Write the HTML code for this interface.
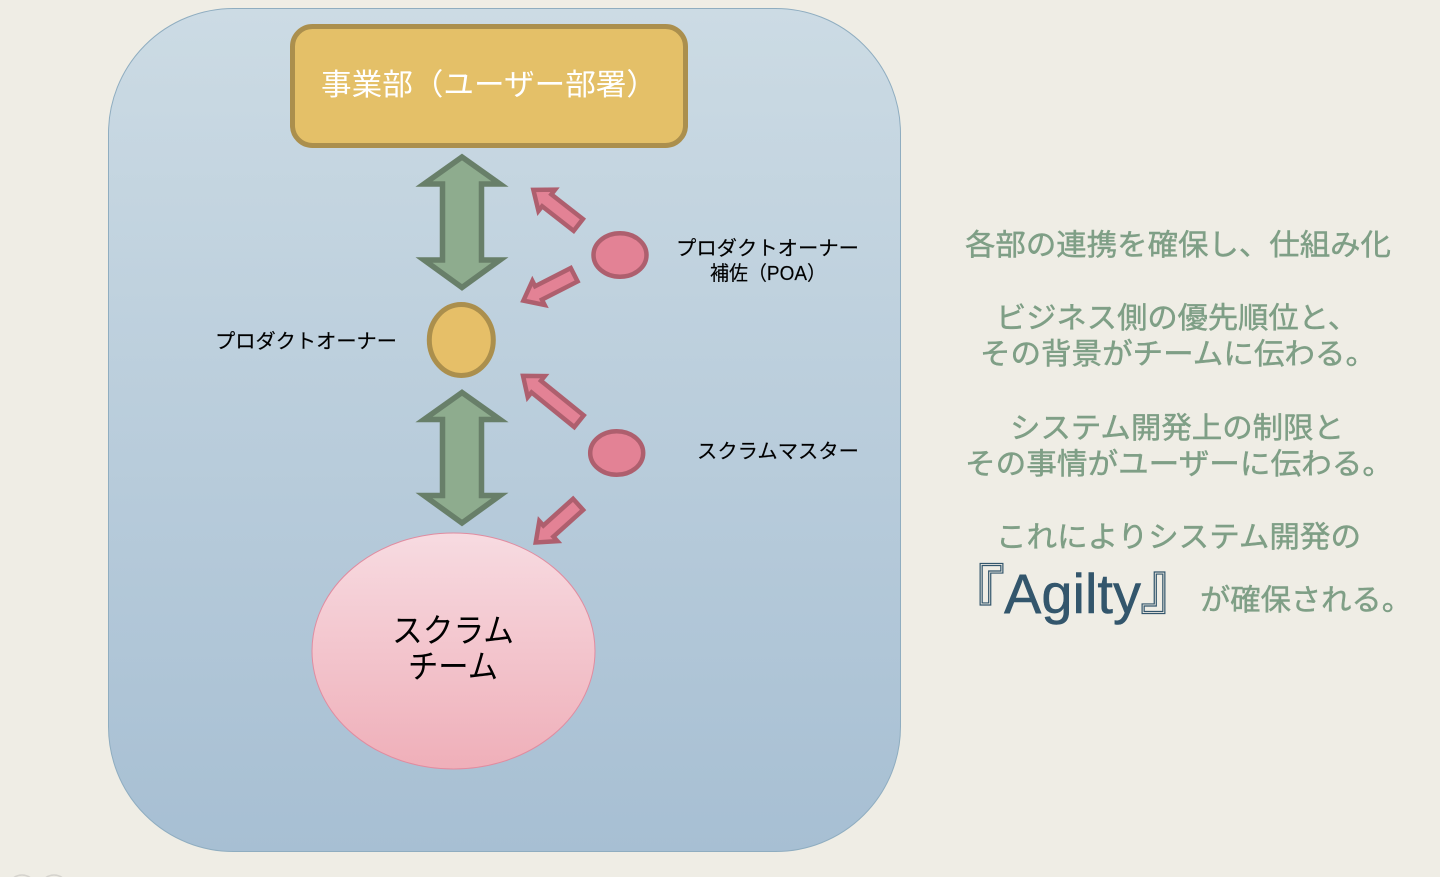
<!DOCTYPE html>
<html lang="ja">
<head>
<meta charset="utf-8">
<title>Scrum diagram</title>
<style>
html,body{margin:0;padding:0;width:1440px;height:877px;overflow:hidden;background:#efede5}
svg{display:block}
text{font-family:"Liberation Sans","Noto Sans CJK JP",sans-serif}
.g{font-size:29.5px;fill:#7f9f86;stroke:#7f9f86;stroke-width:.45}
.k{font-size:20px;fill:#000;stroke:#000;stroke-width:.15}
.ar{fill:#e38295;stroke:#ae5f6e;stroke-width:4.5;stroke-miterlimit:8}
</style>
</head>
<body>
<svg width="1440" height="877" viewBox="0 0 1440 877" xmlns="http://www.w3.org/2000/svg">
<defs>
<linearGradient id="bg" x1="0" y1="0" x2="0" y2="1"><stop offset="0" stop-color="#ccdbe4"/><stop offset="1" stop-color="#a7bfd3"/></linearGradient>
<linearGradient id="pk" x1="0" y1="0" x2="0" y2="1"><stop offset="0" stop-color="#f7dbe1"/><stop offset="1" stop-color="#efafb9"/></linearGradient>
<polygon id="dbl" points="462,157 424,184 442.500,184 442.500,260 424,260 462,287.500 500,260 481.500,260 481.500,184 500,184"/>
</defs>
<rect width="1440" height="877" fill="#efede5"/>
<circle cx="22" cy="889" r="14" fill="none" stroke="#d5d3cd" stroke-width="1.500"/>
<circle cx="54" cy="889" r="14" fill="none" stroke="#d5d3cd" stroke-width="1.500"/>

<rect x="108.500" y="8.500" width="792" height="843" rx="125" ry="125" fill="url(#bg)" stroke="#8fadc0" stroke-width="1"/>

<rect x="292.500" y="26.500" width="393" height="119" rx="20" ry="20" fill="#e4c068" stroke="#ab8f4d" stroke-width="5"/>
<text x="321" y="95" font-size="30" fill="#fff" textLength="336" lengthAdjust="spacingAndGlyphs">事業部（ユーザー部署）</text>

<use href="#dbl" style="fill:#8eac8e;stroke:#687f69;stroke-width:5.500"/>
<use href="#dbl" y="235.500" style="fill:#8eac8e;stroke:#687f69;stroke-width:5.500"/>

<ellipse cx="461.300" cy="340" rx="32" ry="35.500" fill="#e6bf68" stroke="#ab8f4d" stroke-width="5"/>
<ellipse cx="620" cy="255" rx="26.500" ry="21.800" fill="#e38295" stroke="#ae5f6e" stroke-width="4.500"/>
<ellipse cx="616.700" cy="453" rx="26.500" ry="21.800" fill="#e38295" stroke="#ae5f6e" stroke-width="4.500"/>
<ellipse cx="453.500" cy="651" rx="141.500" ry="118" fill="url(#pk)" stroke="#e08ca0" stroke-width="1"/>

<g class="ar">
<polygon transform="translate(531,188) rotate(38)" points="3,0 20,-13.500 20,-7.500 60,-7.500 60,7.500 20,7.500 20,13.500"/>
<polygon transform="translate(520.700,302) rotate(-27)" points="3,0 20,-13.500 20,-7.500 60,-7.500 60,7.500 20,7.500 20,13.500"/>
<polygon transform="translate(520.700,374) rotate(39)" points="3,0 20,-13.500 20,-7.500 75,-7.500 75,7.500 20,7.500 20,13.500"/>
<polygon transform="translate(533.500,544.500) rotate(-42)" points="3,0 20,-13.500 20,-7.500 60,-7.500 60,7.500 20,7.500 20,13.500"/>
</g>

<text class="k" x="215" y="348" textLength="182" lengthAdjust="spacingAndGlyphs">プロダクトオーナー</text>
<text class="k" x="676" y="255" textLength="183" lengthAdjust="spacingAndGlyphs">プロダクトオーナー</text>
<text class="k" x="710" y="280" textLength="116" lengthAdjust="spacingAndGlyphs">補佐（POA）</text>
<text class="k" x="697" y="458" textLength="162" lengthAdjust="spacingAndGlyphs">スクラムマスター</text>

<text x="453" y="642" font-size="33" fill="#000" text-anchor="middle" textLength="122" lengthAdjust="spacingAndGlyphs">スクラム</text>
<text x="453" y="678" font-size="33" fill="#000" text-anchor="middle" textLength="90" lengthAdjust="spacingAndGlyphs">チーム</text>

<text class="g" x="965" y="255" textLength="426" lengthAdjust="spacingAndGlyphs">各部の連携を確保し、仕組み化</text>
<text class="g" x="996" y="328" textLength="362" lengthAdjust="spacingAndGlyphs">ビジネス側の優先順位と、</text>
<text class="g" x="980" y="364" textLength="396" lengthAdjust="spacingAndGlyphs">その背景がチームに伝わる。</text>
<text class="g" x="1010" y="438" textLength="334" lengthAdjust="spacingAndGlyphs">システム開発上の制限と</text>
<text class="g" x="965" y="474" textLength="428" lengthAdjust="spacingAndGlyphs">その事情がユーザーに伝わる。</text>
<text class="g" x="996" y="547" textLength="365" lengthAdjust="spacingAndGlyphs">これによりシステム開発の</text>
<text x="943" y="616" font-size="62" fill="none" stroke="#33566c" stroke-width="1.200">『</text>
<text x="1004" y="613" font-size="56" fill="#33566c" stroke="#33566c" stroke-width=".5">Agilty</text>
<text x="1140" y="608" font-size="62" fill="none" stroke="#33566c" stroke-width="1.200">』</text>
<text class="g" x="1200" y="610" textLength="212" lengthAdjust="spacingAndGlyphs">が確保される。</text>
</svg>
</body>
</html>
